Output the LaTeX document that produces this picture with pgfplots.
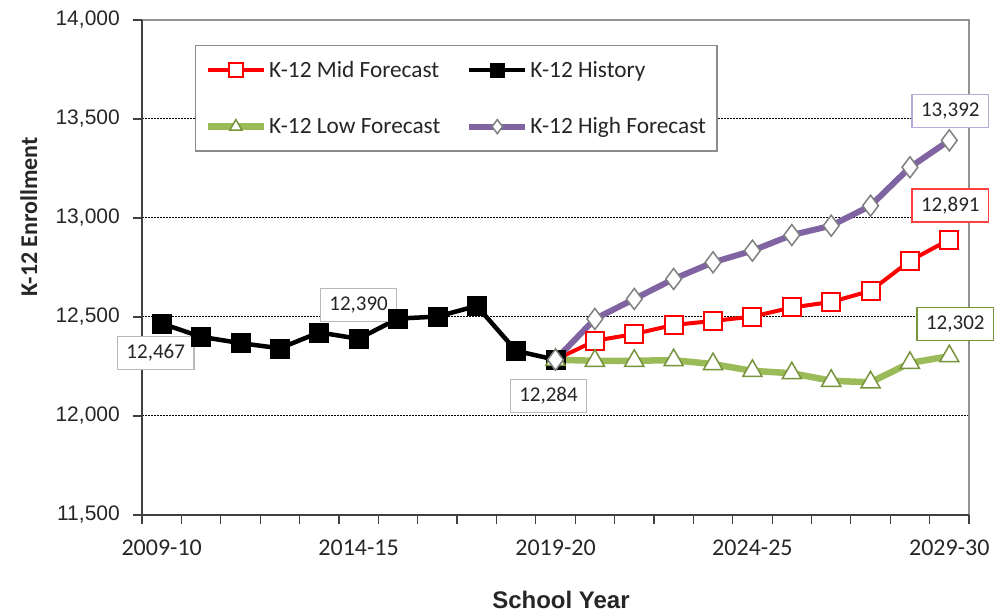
\documentclass[border=0pt]{standalone}
\usepackage{pgfplots}
\pgfplotsset{compat=1.18}
\usepackage{fontspec}
\setmainfont{Carlito}
\newfontfamily\arialf{Liberation Sans}
\definecolor{midred}{RGB}{255,0,0}
\definecolor{lowgreen}{RGB}{155,187,89}
\definecolor{lowedge}{RGB}{119,147,60}
\definecolor{highpurple}{RGB}{128,100,162}
\definecolor{diaedge}{RGB}{128,128,128}
\definecolor{lavender}{RGB}{185,170,215}
\definecolor{txt}{RGB}{38,38,38}
\begin{document}
\begin{tikzpicture}
\useasboundingbox (0pt,0pt) rectangle (995pt,615pt);
\begin{axis}[
  at={(142pt,100pt)}, anchor=south west, scale only axis,
  width=827pt, height=495pt,
  xmin=-0.5, xmax=20.5, ymin=11500, ymax=14000,
  clip=false,
  scaled y ticks=false,
  axis line style={draw=none},
  tick align=outside,
  xtick pos=bottom, ytick pos=left,
  xtick={-0.5,0.5,...,20.5},
  xticklabels={2009-10,,,,,2014-15,,,,,2019-20,,,,,2024-25,,,,,2029-30,},
  xticklabel style={font=\fontsize{24}{28}\selectfont, text=txt, inner sep=0pt, xshift=19.69pt, yshift=-16pt},
  ytick={11500,12000,...,14000},
  yticklabel style={font=\arialf\fontsize{21}{25}\selectfont, text=txt, inner sep=0pt, xshift=-13pt},
  /pgf/number format/.cd, 1000 sep={,}, assume math mode=true,
  /pgfplots/.cd,
  major tick length=9pt,
  tick style={black!75, line width=1.2pt},
  ylabel={\bfseries K-12 Enrollment},
  every axis y label/.style={at={(axis description cs:-0.137,0.602)}, rotate=90, anchor=center, font=\fontsize{24}{28}\selectfont, text=txt},
  xlabel={School Year},
  every axis x label/.style={at={(axis description cs:0.5066,-0.172)}, anchor=center, font=\arialf\bfseries\fontsize{24}{28}\selectfont, text=txt},
  legend columns=2,
  legend cell align=left,
  legend style={at={(0.0641,0.9495)}, anchor=north west, draw=gray!90, line width=1.2pt, fill=white,
    font=\fontsize{23.3}{27}\selectfont, text=txt, inner xsep=9pt, inner ysep=13.5pt, row sep=35pt,
    /tikz/every even column/.append style={column sep=24pt}},
  legend image code/.code={\draw[mark repeat=2,mark phase=2] plot coordinates {(0pt,0pt) (28pt,0pt) (56pt,0pt)};},
  legend image post style={mark size=7pt},
]
\pgfplotsinvokeforeach{12000,12500,13000,13500}{
  \draw[black, line width=1pt, dash pattern=on 1.5pt off 1.5pt] (axis cs:-0.5,#1) -- (axis cs:20.5,#1);
}
\draw[gray!85, line width=1.5pt] (rel axis cs:0,1) -- (rel axis cs:1,1) -- (rel axis cs:1,0);
\draw[black!75, line width=2pt] (rel axis cs:0,1) -- (rel axis cs:0,0) -- (rel axis cs:1,0);

\addplot[midred, line width=4pt, mark=square*, mark size=9pt,
  mark options={solid, fill=white, draw=midred, line width=2pt}]
  coordinates {(10,12284) (11,12380) (12,12414) (13,12460) (14,12480) (15,12502) (16,12548) (17,12576) (18,12632) (19,12784) (20,12891)};
\addlegendentry{K-12 Mid Forecast}
\addplot[black, line width=4.5pt, mark=square*, mark size=9.5pt,
  mark options={solid, fill=black, draw=black, line width=0.5pt}]
  coordinates {(0,12467) (1,12400) (2,12368) (3,12342) (4,12422) (5,12390) (6,12492) (7,12502) (8,12556) (9,12329) (10,12284)};
\addlegendentry{K-12 History}
\addplot[lowgreen, line width=6.5pt, mark=triangle*, mark size=11pt,
  mark options={solid, fill=white, draw=lowedge, line width=1.5pt}]
  coordinates {(10,12284) (11,12279) (12,12279) (13,12282) (14,12262) (15,12228) (16,12216) (17,12178) (18,12170) (19,12268) (20,12302)};
\addlegendentry{K-12 Low Forecast}
\addplot[highpurple, line width=6pt, mark=diamond*, mark size=10.5pt,
  mark options={solid, fill=white, draw=diaedge, line width=1.5pt}]
  coordinates {(10,12284) (11,12490) (12,12591) (13,12692) (14,12776) (15,12835) (16,12914) (17,12961) (18,13062) (19,13256) (20,13392)};
\addlegendentry{K-12 High Forecast}

\tikzset{lbl/.style={fill=white, line width=1.2pt, text=txt, font=\fontsize{21}{25}\selectfont, inner xsep=9pt, inner ysep=8pt, text height=14pt, text depth=3pt}}
\node[lbl, draw=gray!55, xshift=-6pt, yshift=-29.5pt] at (axis cs:0,12467) {12,467};
\node[lbl, draw=gray!55, yshift=34pt] at (axis cs:5,12390) {12,390};
\node[lbl, draw=gray!55, xshift=-7pt, yshift=-36.5pt] at (axis cs:10,12284) {12,284};
\node[lbl, draw=lavender, xshift=1pt, yshift=29.5pt] at (axis cs:20,13392) {13,392};
\node[lbl, draw=midred!75, xshift=1pt, yshift=34pt] at (axis cs:20,12891) {12,891};
\node[lbl, draw=lowedge, xshift=6pt, yshift=32pt] at (axis cs:20,12302) {12,302};
\end{axis}
\end{tikzpicture}
\end{document}
